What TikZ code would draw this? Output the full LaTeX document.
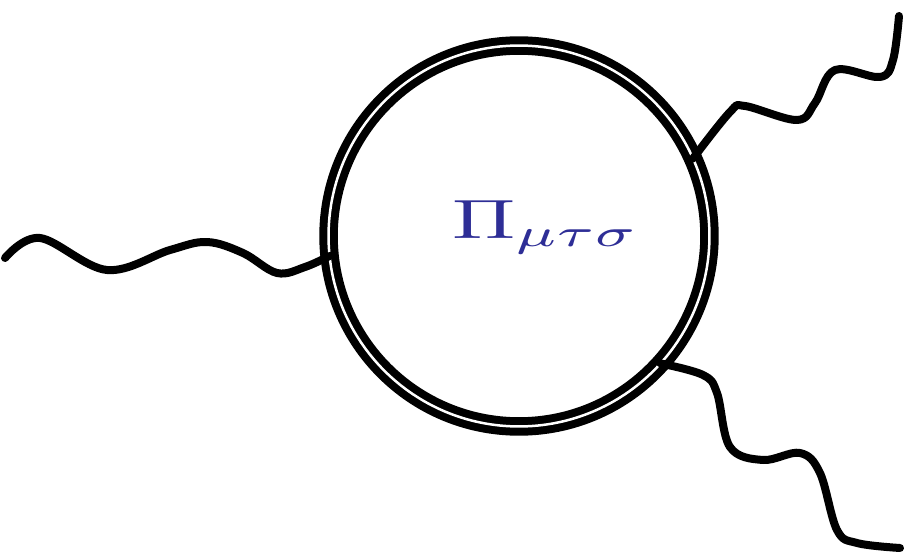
\documentclass[tikz,border=0pt]{standalone}
\usepackage{amsmath}
\usepackage{graphicx}
\usepackage{xcolor}
\usepackage{tikz}
\definecolor{labelblue}{RGB}{46,46,150}
\tikzset{
  loopline/.style={draw, circle, minimum size=7.62cm, inner sep=0pt, outer sep=0pt,
    line width=0.16cm, double=white, double distance=0.05cm},
  wire/.style={line width=0.16cm, line cap=round, line join=round},
  lbl/.style={text=labelblue, inner sep=0pt}
}

\begin{document}
\begin{tikzpicture}[x=0.02cm, y=-0.02cm]
\useasboundingbox (0,0) rectangle (910,554);
\node[loopline] (loop) at (519,236) {};
\node[lbl, anchor=base west] (pi) at (452,238) {\scalebox{4.8}[3.15]{$\Pi_{\mu\tau\sigma}$}};
% external photon lines
\coordinate (inL) at (5,258);
\coordinate (outU) at (899,16);
\coordinate (outD) at (900,548);
\draw[wire] plot[smooth, tension=0.6] coordinates {(inL) (40,238) (107,270) (170,250) (207,242) (243,253) (277,273) (305,267) (loop.186)};
\draw[wire] plot[smooth, tension=0.6] coordinates {(loop.24) (730,112) (745,106) (797,120) (815,103) (835,70) (880,77) (893,60) (outU)};
\draw[wire] plot[smooth, tension=0.6] coordinates {(loop.318) (703,375) (717,393) (730,447) (763,460) (800,453) (820,473) (837,530) (857,543) (outD)};
\end{tikzpicture}
\end{document}
